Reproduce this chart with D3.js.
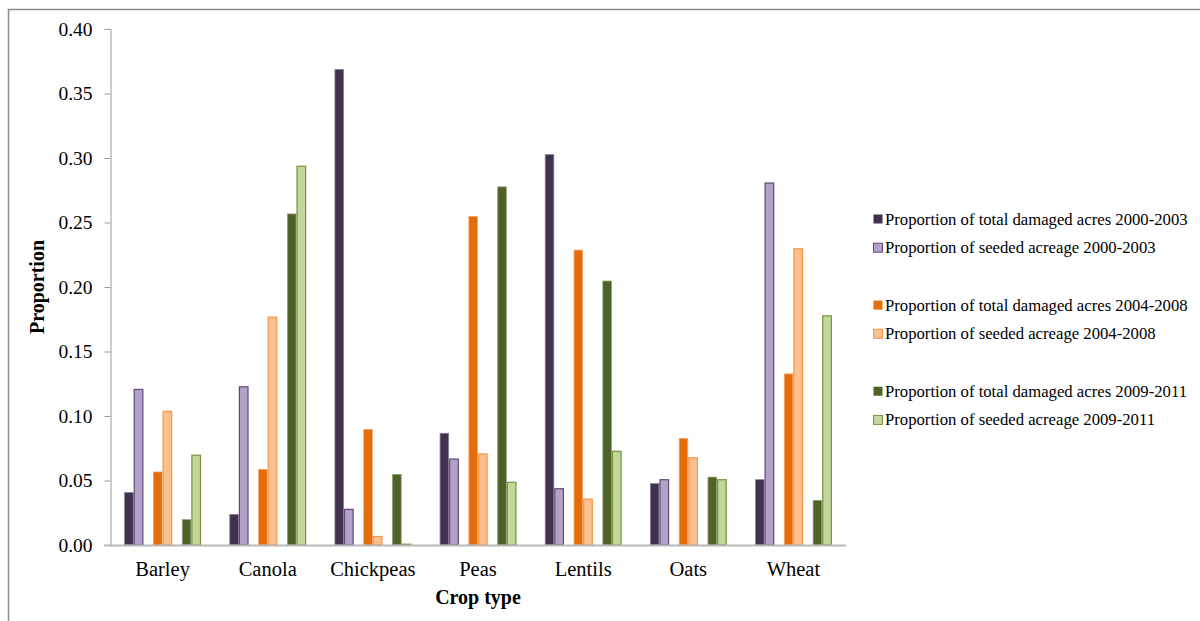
<!DOCTYPE html>
<html>
<head>
<meta charset="utf-8">
<script src="https://cdn.jsdelivr.net/npm/d3@7"></script>
<style>
  html, body { margin: 0; padding: 0; background: #fff; }
  svg { display: block; font-family: "Liberation Serif", "Times New Roman", serif; }
</style>
</head>
<body>
<svg id="chart" width="1200" height="621"></svg>
<script>
// Crop categories along the x axis
const categories = ["Barley", "Canola", "Chickpeas", "Peas", "Lentils", "Oats", "Wheat"];

// Proportions per crop, one array per series
const damaged2000_2003 = [0.041, 0.024, 0.369, 0.087, 0.303, 0.048, 0.051];
const seeded2000_2003  = [0.121, 0.123, 0.028, 0.067, 0.044, 0.051, 0.281];
const damaged2004_2008 = [0.057, 0.059, 0.090, 0.255, 0.229, 0.083, 0.133];
const seeded2004_2008  = [0.104, 0.177, 0.007, 0.071, 0.036, 0.068, 0.230];
const damaged2009_2011 = [0.020, 0.257, 0.055, 0.278, 0.205, 0.053, 0.035];
const seeded2009_2011  = [0.070, 0.294, 0.001, 0.049, 0.073, 0.051, 0.178];

const seriesNames = [
  "Proportion of total damaged acres 2000-2003",
  "Proportion of seeded acreage 2000-2003",
  "Proportion of total damaged acres 2004-2008",
  "Proportion of seeded acreage 2004-2008",
  "Proportion of total damaged acres 2009-2011",
  "Proportion of seeded acreage 2009-2011"
];
const seriesValues = [damaged2000_2003, seeded2000_2003, damaged2004_2008,
                      seeded2004_2008, damaged2009_2011, seeded2009_2011];
const seriesFill   = ["#403151", "#B3A2C7", "#E46C0A", "#FAC090", "#4F6228", "#C3D69B"];
const seriesStroke = ["#8a7f96", "#5F497A", "#f2a46a", "#F79646", "#8c9a73", "#77933C"];

const yTicks = [0, 0.05, 0.10, 0.15, 0.20, 0.25, 0.30, 0.35, 0.40];

// Each period occupies a pair of slots; an empty slot separates the periods
const slots = ["s0", "s1", "gapA", "s2", "s3", "gapB", "s4", "s5"];

const svg = d3.select("#chart");

// Outer chart frame
svg.append("path")
  .attr("d", "M8.5,621 L8.5,9.5 L1200,9.5")
  .attr("fill", "none")
  .attr("stroke", "#8c8c8c")
  .attr("stroke-width", 1.5);

const plot = { left: 110, right: 846, top: 29, bottom: 545 };

const y = d3.scaleLinear().domain([0, 0.40]).range([plot.bottom, plot.top]);
const x0 = d3.scaleBand().domain(categories).range([plot.left, plot.right]).paddingInner(0).paddingOuter(0);
const groupWidth = x0.bandwidth() * 0.731;
const x1 = d3.scaleBand().domain(slots).range([0, groupWidth]).padding(0);
const groupOffset = (x0.bandwidth() - groupWidth) / 2;

// Y axis
const yAxis = d3.axisLeft(y).tickValues(yTicks).tickFormat(d3.format(".2f")).tickSizeOuter(0).tickSize(6).tickPadding(12);
const yg = svg.append("g").attr("transform", `translate(${plot.left + 0.5},0)`).call(yAxis);
yg.select(".domain").attr("stroke", "#9a9a9a");
yg.selectAll(".tick line").attr("stroke", "#9a9a9a");
yg.selectAll(".tick text")
  .attr("font-family", "Liberation Serif, serif")
  .attr("font-size", 19.5)
  .attr("fill", "#000");

// Bars
const bars = svg.append("g");
seriesValues.forEach((vals, si) => {
  const light = si % 2 === 1;
  bars.selectAll(null)
    .data(vals.map((v, ci) => ({ v, c: categories[ci] })))
    .join("rect")
    .attr("x", d => x0(d.c) + groupOffset + x1("s" + si) + 0.5)
    .attr("y", d => y(d.v) + 0.5)
    .attr("width", x1.bandwidth() - 1)
    .attr("height", d => Math.max(0, y(0) - y(d.v) - 0.5))
    .attr("fill", seriesFill[si])
    .attr("stroke", seriesStroke[si])
    .attr("stroke-width", light ? 1.2 : 0.8);
});

// X axis baseline and category labels
svg.append("line")
  .attr("x1", plot.left - 6).attr("x2", plot.right)
  .attr("y1", plot.bottom + 0.5).attr("y2", plot.bottom + 0.5)
  .attr("stroke", "#b8b8b8").attr("stroke-width", 2);

svg.append("g").selectAll("text")
  .data(categories)
  .join("text")
  .attr("x", d => x0(d) + x0.bandwidth() / 2)
  .attr("y", 576)
  .attr("text-anchor", "middle")
  .attr("font-size", 20.5)
  .attr("fill", "#000")
  .text(d => d);

// Axis titles
svg.append("text")
  .attr("x", (plot.left + plot.right) / 2)
  .attr("y", 604)
  .attr("text-anchor", "middle")
  .attr("font-size", 20)
  .attr("font-weight", "bold")
  .text("Crop type");

svg.append("text")
  .attr("transform", "translate(44,287) rotate(-90)")
  .attr("text-anchor", "middle")
  .attr("font-size", 20)
  .attr("font-weight", "bold")
  .text("Proportion");

// Legend, with a blank row between periods
const legendRows = [0, 1, 3, 4, 6, 7];
const legend = svg.append("g").attr("transform", "translate(873,219)");
seriesNames.forEach((name, si) => {
  const row = legend.append("g").attr("transform", `translate(0,${legendRows[si] * 28.7})`);
  row.append("rect")
    .attr("x", 0.5).attr("y", -4.5)
    .attr("width", 9).attr("height", 9)
    .attr("fill", seriesFill[si])
    .attr("stroke", si % 2 === 1 ? seriesStroke[si] : "none");
  row.append("text")
    .attr("x", 12).attr("y", 5.5)
    .attr("font-size", 16.7)
    .attr("fill", "#000")
    .text(name);
});
</script>
</body>
</html>
